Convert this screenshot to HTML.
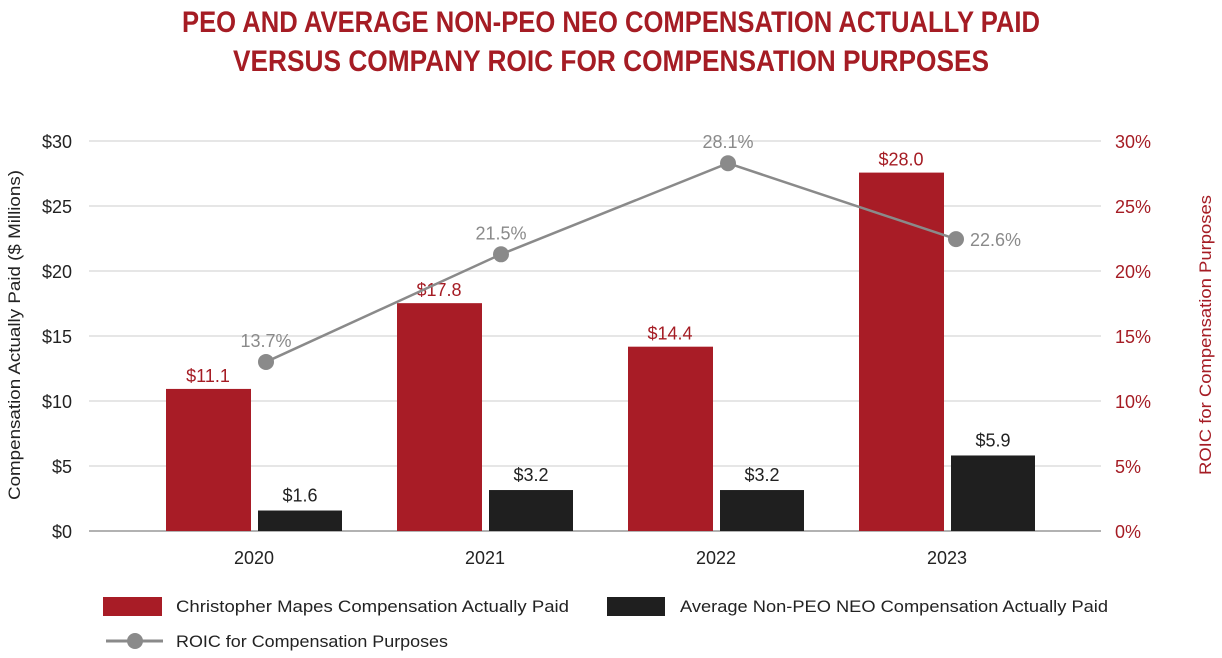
<!DOCTYPE html>
<html><head><meta charset="utf-8"><style>
body{margin:0;background:#fff;}
svg{display:block;font-family:"Liberation Sans",sans-serif;}
</style></head><body>
<svg id="chart" width="1222" height="658" viewBox="0 0 1222 658">
<g fill="#a51c24" font-weight="bold" font-size="30" text-anchor="middle">
<text x="611" y="32" textLength="858" lengthAdjust="spacingAndGlyphs">PEO AND AVERAGE NON-PEO NEO COMPENSATION ACTUALLY PAID</text>
<text x="611" y="71" textLength="756" lengthAdjust="spacingAndGlyphs">VERSUS COMPANY ROIC FOR COMPENSATION PURPOSES</text>
</g>
<g id="grid"></g><g id="bars"></g><g id="line"></g><g id="axes"></g>
<text transform="translate(20,335) rotate(-90)" text-anchor="middle" font-size="17" fill="#222" textLength="330" lengthAdjust="spacingAndGlyphs">Compensation Actually Paid ($ Millions)</text>
<text transform="translate(1211,335) rotate(-90)" text-anchor="middle" font-size="17" fill="#a51c24" textLength="280" lengthAdjust="spacingAndGlyphs">ROIC for Compensation Purposes</text>
<g font-size="17" fill="#222">
<rect x="103" y="597" width="59" height="19" fill="#a81c26"/>
<text x="176" y="612" textLength="393" lengthAdjust="spacingAndGlyphs">Christopher Mapes Compensation Actually Paid</text>
<rect x="607" y="597" width="58" height="19" fill="#1f1f1f"/>
<text x="680" y="612" textLength="428" lengthAdjust="spacingAndGlyphs">Average Non-PEO NEO Compensation Actually Paid</text>
<line x1="106" y1="641" x2="163" y2="641" stroke="#8a8a8a" stroke-width="3"/>
<circle cx="135" cy="641" r="8" fill="#8a8a8a"/>
<text x="176" y="647" textLength="272" lengthAdjust="spacingAndGlyphs">ROIC for Compensation Purposes</text>
</g>
</svg>
<script>
const years=["2020","2021","2022","2023"];
const peo=[11.1,17.8,14.4,28.0];
const neo=[1.6,3.2,3.2,5.9];
const roic=[13.7,21.5,28.1,22.6];
const leftTicks=[0,5,10,15,20,25,30];
const rightTicks=[0,5,10,15,20,25,30];
const NS="http://www.w3.org/2000/svg";
const y0=531,pxPer=12.8;
const gridPer=13.0;
const yL=v=>y0-v*pxPer;
const yG=v=>y0-v*gridPer;
const yR=v=>y0+20-v*13.8;
const groupX=i=>166+i*231;
const ptX=[266,501,728,956];
function mk(t,a,p,txt){const e=document.createElementNS(NS,t);for(const k in a)e.setAttribute(k,a[k]);if(txt!==undefined)e.textContent=txt;p.appendChild(e);return e;}
const G=document.getElementById('grid'),B=document.getElementById('bars'),L=document.getElementById('line'),A=document.getElementById('axes');
leftTicks.forEach(t=>{
 const g=mk('line',{x1:89,x2:1101,y1:yG(t),y2:yG(t),stroke:t===0?'#999':'#e6e6e6','stroke-width':t===0?1.5:2},G);
 
 
 const l=mk('text',{x:72,y:yG(t)+7,'text-anchor':'end','font-size':18,fill:'#222'},A,'$'+t);
 
 
});
rightTicks.forEach(t=>{
 const l=mk('text',{x:1115,y:yG(t)+7,'font-size':18,fill:'#a51c24'},A,t+'%');
 
 
});
years.forEach((yr,i)=>{
 const x=groupX(i);
 const r=mk('rect',{x:x,y:yL(peo[i]),width:85,height:peo[i]*pxPer,fill:'#a81c26'},B);
 
 
 const rt=mk('text',{x:x+42,y:yL(peo[i])-7,'text-anchor':'middle','font-size':18,fill:'#a51c24'},B,'$'+peo[i].toFixed(1));
 
 
 const k=mk('rect',{x:x+92,y:yL(neo[i]),width:84,height:neo[i]*pxPer,fill:'#1f1f1f'},B);
 
 
 const kt=mk('text',{x:x+134,y:yL(neo[i])-9,'text-anchor':'middle','font-size':18,fill:'#222'},B,'$'+neo[i].toFixed(1));
 
 
 const xl=mk('text',{x:x+88,y:564,'text-anchor':'middle','font-size':18,fill:'#222'},A,yr);
 
 
});
const pts=roic.map((v,i)=>[ptX[i],yR(v)]);
const pl=mk('polyline',{points:pts.map(p=>p.join(',')).join(' '),fill:'none',stroke:'#8a8a8a','stroke-width':2.5},L);


pts.forEach((p,i)=>{
 const c=mk('circle',{cx:p[0],cy:p[1],r:8,fill:'#8a8a8a'},L);
 
 
 const last=i===pts.length-1;
 const t=mk('text',{x:last?p[0]+14:p[0],y:last?p[1]+7:p[1]-15,'text-anchor':last?'start':'middle','font-size':18,fill:'#8a8a8a'},L,roic[i]+'%');
 
 
});
</script>
</body></html>
